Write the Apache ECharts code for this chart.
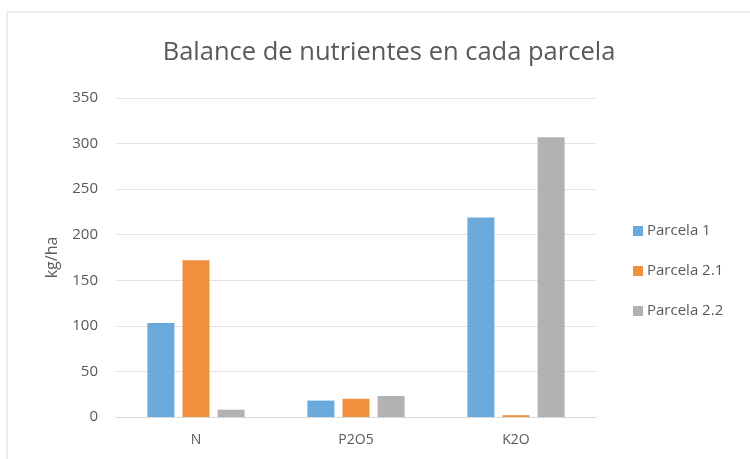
<!DOCTYPE html>
<html>
<head>
<meta charset="utf-8">
<script src="https://cdn.jsdelivr.net/npm/echarts@6/dist/echarts.min.js"></script>
<style>
  html, body { margin: 0; padding: 0; background: #fff; }
  #chart { width: 750px; height: 459px; }
</style>
</head>
<body>
<div id="chart"></div>
<script>
const categories = ["N", "P2O5", "K2O"];
const parcela1 = [103, 18, 219];
const parcela21 = [172, 20, 2];
const parcela22 = [8, 23, 307];
const seriesNames = ["Parcela 1", "Parcela 2.1", "Parcela 2.2"];
const COLORS = ["#6AA9DC", "#F0903C", "#B2B2B2"];
const TEXT = "#595959";
const FONT = "Open Sans";

const chart = echarts.init(document.getElementById("chart"));

const bar = (name, data, i) => ({
  name,
  type: "bar",
  data,
  barWidth: 27,
  barGap: "30%",
  itemStyle: { color: COLORS[i] },
});

chart.setOption({
  backgroundColor: "#fff",
  animation: false,
  textStyle: { fontFamily: FONT },
  graphic: [{
    type: "rect",
    shape: { x: 7, y: 12, width: 760, height: 470 },
    style: { fill: "none", stroke: "#d9d9d9", lineWidth: 1 },
  }],
  title: {
    text: "Balance de nutrientes en cada parcela",
    left: 384, top: 35, textAlign: "center",
    textStyle: { color: TEXT, fontSize: 25.5, fontWeight: "normal", fontFamily: FONT },
  },
  legend: {
    data: seriesNames,
    orient: "vertical",
    left: 633, top: 223, padding: 0,
    itemWidth: 10, itemHeight: 10, itemGap: 24,
    icon: "rect",
    textStyle: { color: TEXT, fontSize: 15, lineHeight: 16, padding: [0, 0, 0, -1] },
  },
  grid: { left: 116, right: 154, top: 98, bottom: 42 },
  xAxis: {
    type: "category",
    data: categories,
    axisLine: { lineStyle: { color: "#d9d9d9" } },
    axisTick: { show: false },
    axisLabel: { color: TEXT, fontSize: 14, margin: 16 },
  },
  yAxis: {
    type: "value",
    min: 0, max: 350, interval: 50,
    name: "kg/ha",
    nameLocation: "middle",
    nameGap: 56,
    nameTextStyle: { color: TEXT, fontSize: 16 },
    axisLine: { show: false },
    axisTick: { show: false },
    splitLine: { lineStyle: { color: "#e3e3e3" } },
    axisLabel: { color: TEXT, fontSize: 15, margin: 18 },
  },
  series: [
    bar(seriesNames[0], parcela1, 0),
    bar(seriesNames[1], parcela21, 1),
    bar(seriesNames[2], parcela22, 2),
  ],
});
</script>
</body>
</html>
